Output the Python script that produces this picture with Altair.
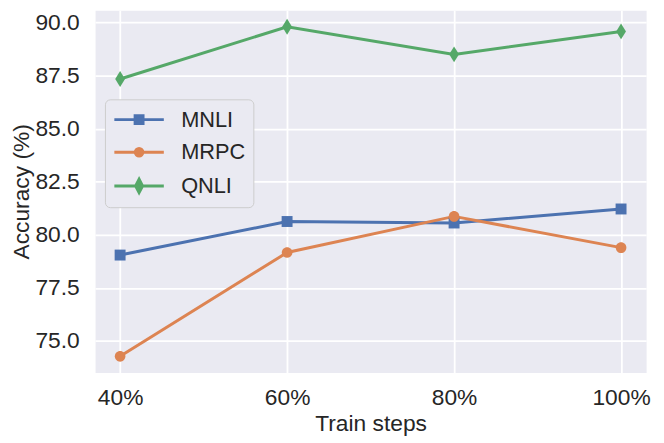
import altair as alt
import pandas as pd

steps = [40, 60, 80, 100]
series_names = ["MNLI", "MRPC", "QNLI"]
mnli = [79.05, 80.63, 80.56, 81.22]
mrpc = [74.28, 79.17, 80.87, 79.40]
qnli = [87.34, 89.80, 88.50, 89.58]
colors = ["#4c72b0", "#dd8452", "#55a868"]
y_ticks = [75.0, 77.5, 80.0, 82.5, 85.0, 87.5, 90.0]

rows = []
for name, vals in zip(series_names, [mnli, mrpc, qnli]):
    for s, v in zip(steps, vals):
        rows.append({"step": s, "acc": v, "series": name})
df = pd.DataFrame(rows)

FONT = "Liberation Sans"
TXT = "#262626"

marker_paths = [
    "M-0.69,-0.69H0.69V0.69H-0.69Z",
    "M-0.67,0A0.67,0.67 0 1,0 0.67,0A0.67,0.67 0 1,0 -0.67,0Z",
    "M0,-1L0.62,0L0,1L-0.62,0Z",
]
legend_paths = [
    "M-2.273,0L2.273,0M-0.364,-0.364H0.364V0.364H-0.364Z",
    "M-2.273,0L2.273,0M-0.35,0A0.35,0.35 0 1,0 0.35,0A0.35,0.35 0 1,0 -0.35,0Z",
    "M-2.273,0L2.273,0M0,-0.614L0.318,0L0,0.614L-0.318,0Z",
]

x_enc = alt.X(
    "step:Q",
    scale=alt.Scale(domain=[37, 103], nice=False, zero=False),
    axis=alt.Axis(values=steps, labelExpr="datum.value + '%'", title="Train steps",
                  labelPadding=14, titlePadding=4),
)
y_enc = alt.Y(
    "acc:Q",
    scale=alt.Scale(domain=[73.525, 90.575], nice=False, zero=False),
    axis=alt.Axis(values=y_ticks, format=".1f", title="Accuracy (%)",
                  labelPadding=16, titlePadding=2),
)
line_color = alt.Color("series:N", scale=alt.Scale(range=colors), legend=None)

lines = alt.Chart(df).mark_line(strokeWidth=3).encode(
    x=x_enc, y=y_enc, color=line_color,
)

point_layers = [
    alt.Chart(df).transform_filter(alt.datum.series == name).mark_point(
        filled=True, size=256, opacity=1, shape=path
    ).encode(x=x_enc, y=y_enc, color=line_color)
    for name, path in zip(series_names, marker_paths)
]

leg = alt.Legend(
    title=None, orient="none", legendX=10, legendY=90,
    symbolSize=484, symbolStrokeWidth=3, symbolFillColor="#4c72b0",
    symbolOffset=14,
    labelFont=FONT, labelFontSize=22, labelColor=TXT, labelOffset=30,
    fillColor="#eaeaf2", strokeColor="#cccccc", cornerRadius=5,
    padding=8, rowPadding=9,
)
legend_scale = dict(domain=series_names)

legend_layer = alt.Chart(df).mark_point(size=0, opacity=1, strokeWidth=3).encode(
    x=x_enc, y=y_enc,
    shape=alt.Shape("series:N", scale=alt.Scale(range=legend_paths, **legend_scale), legend=leg),
    fill=alt.Fill("series:N", scale=alt.Scale(range=colors, **legend_scale), legend=leg),
    stroke=alt.Stroke("series:N", scale=alt.Scale(range=colors, **legend_scale), legend=leg),
)

chart = alt.layer(lines, *point_layers, legend_layer).properties(
    width=557, height=366,
    autosize=alt.AutoSizeParams(type="none"),
    padding={"left": 88, "top": 0, "right": 10, "bottom": 66},
).configure_view(
    fill="#eaeaf2", stroke="transparent"
).configure_axis(
    grid=True, gridColor="white", gridWidth=1.8, domain=False, ticks=False, tickSize=0,
    labelFont=FONT, labelFontSize=23, labelColor=TXT,
    titleFont=FONT, titleFontSize=23, titleColor=TXT, titleFontWeight="normal",
)

chart.save("out.html", embed_options={"renderer": "svg", "actions": False})
